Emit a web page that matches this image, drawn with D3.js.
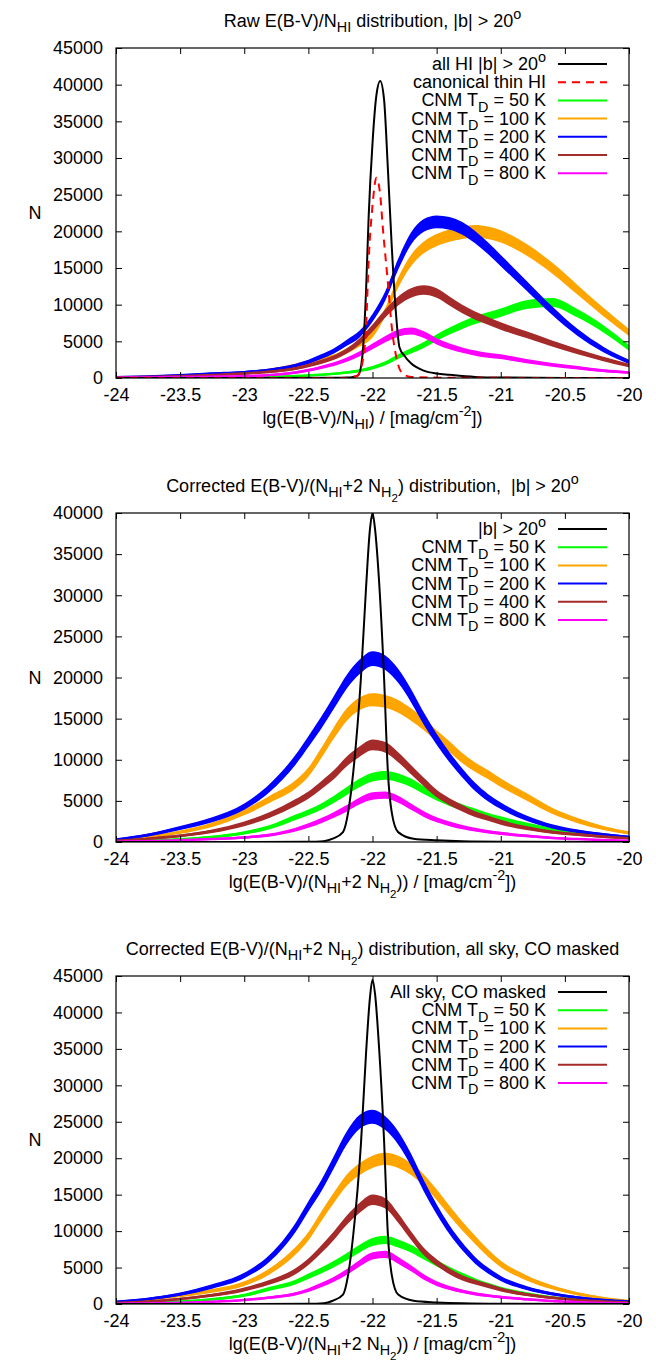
<!DOCTYPE html>
<html>
<head>
<meta charset="utf-8">
<script src="https://cdn.jsdelivr.net/npm/d3@7"></script>
<style>
  body { margin: 0; background: #fff; }
  svg { display: block; font-family: 'Liberation Sans', Arial, sans-serif; }
</style>
</head>
<body>
<svg id="chart" width="656" height="1360"></svg>
<script>
// common x grid (lg E(B-V)/N) for the CNM histograms
const X_GRID = [-24, -23.75, -23.5, -23.25, -23, -22.8, -22.6, -22.5, -22.4, -22.3, -22.2, -22.1, -22, -21.9,
    -21.8, -21.7, -21.6, -21.5, -21.4, -21.3, -21.2, -21.1, -21, -20.8, -20.6, -20.4, -20.2, -20]

const X_TICKS = [-24, -23.5, -23, -22.5, -22, -21.5, -21, -20.5, -20]
const Y_TICKS_45 = [0, 5000, 10000, 15000, 20000, 25000, 30000, 35000, 40000, 45000]
const Y_TICKS_40 = [0, 5000, 10000, 15000, 20000, 25000, 30000, 35000, 40000]

const CNM_LABELS = ['CNM T_{D} = 50 K', 'CNM T_{D} = 100 K', 'CNM T_{D} = 200 K', 'CNM T_{D} = 400 K', 'CNM T_{D} = 800 K']
const CNM_COLORS = ['#00ff00', '#ffa500', '#0000ff', '#a52a2a', '#ff00ff']

// panel 1: raw E(B-V)/N_HI, |b| > 20
const RAW_HI_X = [-24, -22.3, -22.2, -22.15, -22.11, -22.08, -22.05, -22.03, -22, -21.97, -21.94, -21.91, -21.88,
    -21.85, -21.82, -21.79, -21.75, -21.7, -21.6, -21.5, -21.4, -21.2, -21, -20.5, -20]
const RAW_HI_N = [0, 20, 60, 150, 400, 2800, 12000, 22000, 32000, 38500, 40500, 38000, 28500,
    18000, 9500, 4200, 3000, 2000, 1000, 600, 430, 150, 60, 10, 0]
const THIN_HI_X = [-24, -22.2, -22.12, -22.08, -22.05, -22.03, -22, -21.97, -21.94, -21.92, -21.88, -21.85, -21.81,
    -21.76, -21.7, -21.5, -21, -20]
const THIN_HI_N = [0, 0, 300, 2000, 7000, 16000, 23500, 27300, 25000, 20600, 13000, 7000, 2500, 500, 150, 50, 20, 0]
const raw50 = [0, 10, 30, 60, 100, 160, 260, 350, 450, 580, 750, 1000, 1400, 2000, 2900, 3700, 4500, 5500, 6400,
    7200, 7900, 8400, 8900, 10000, 10300, 8800, 6700, 4100]
const raw100 = [80, 180, 300, 500, 750, 1100, 1700, 2100, 2500, 2900, 3700, 4700, 6000, 9000, 13000, 16000, 17800,
    18800, 19400, 19800, 20000, 19800, 19300, 17500, 15000, 12000, 9000, 6200]
const raw200 = [100, 220, 380, 600, 800, 1100, 1700, 2200, 2900, 3700, 4800, 6000, 8200, 11200, 15500, 19000, 20800,
    21300, 21100, 20400, 19200, 17700, 16000, 12600, 9200, 6200, 3900, 2200]
const raw400 = [80, 150, 250, 400, 600, 850, 1300, 1700, 2200, 2800, 3700, 5000, 6800, 8800, 10500, 11600, 12000,
    11600, 10500, 9400, 8500, 7800, 7100, 5900, 4700, 3600, 2600, 1700]
const raw800 = [40, 80, 130, 180, 260, 400, 750, 1050, 1450, 1900, 2500, 3300, 4300, 5300, 6100, 6400, 5900, 5000,
    4300, 3800, 3400, 3100, 2900, 2300, 1800, 1400, 1000, 750]

// panel 2: corrected, |b| > 20
const B20_HI_X = [-24, -22.5, -22.38, -22.31, -22.23, -22.19, -22.15, -22.09, -22.05, -22.02, -22, -21.98, -21.95,
    -21.91, -21.88, -21.85, -21.8, -21.68, -21.5, -21.3, -21, -20]
const B20_HI_N = [0, 20, 100, 400, 1200, 3600, 8500, 20000, 31000, 38000, 40000, 38000, 32000, 20000, 8500, 3600,
    1200, 400, 200, 80, 30, 0]
const b20_50 = [80, 180, 320, 600, 1100, 1800, 3000, 3600, 4300, 5200, 6200, 7200, 7900, 8100, 7800, 7200, 6300,
    5500, 4800, 4200, 3700, 3200, 2800, 2100, 1500, 1100, 750, 500]
const b20_100 = [250, 600, 1200, 2100, 3600, 5200, 7000, 8500, 10800, 13300, 15500, 16800, 17300, 17100, 16500,
    15500, 14300, 12900, 11600, 10200, 9100, 8200, 7200, 5500, 3800, 2600, 1700, 1100]
const b20_200 = [300, 850, 1700, 2700, 4300, 6600, 10000, 12200, 14500, 17000, 19500, 21300, 22300, 21800, 20200,
    17800, 15000, 12500, 10300, 8400, 6700, 5400, 4400, 2900, 1900, 1300, 900, 600]
const b20_400 = [150, 400, 750, 1300, 2200, 3300, 4800, 5700, 6900, 8200, 9800, 11000, 11800, 11500, 10300, 8800,
    7300, 5900, 4900, 4100, 3400, 2900, 2400, 1700, 1200, 900, 650, 450]
const b20_800 = [40, 100, 200, 350, 550, 850, 1500, 2000, 2600, 3300, 4100, 5000, 5600, 5700, 5200, 4300, 3400,
    2700, 2200, 1800, 1500, 1250, 1050, 750, 500, 350, 250, 150]

// panel 3: corrected, all sky, CO masked
const SKY_HI_X = B20_HI_X
const SKY_HI_N = [0, 20, 100, 450, 1300, 4000, 9500, 22000, 34500, 42000, 44500, 42500, 35500, 22500, 9500, 4000,
    1300, 450, 220, 90, 30, 0]
const sky50 = [80, 180, 330, 650, 1200, 2100, 3000, 3800, 4600, 5500, 6500, 7600, 8500, 8800, 8300, 7600, 6600,
    5600, 4700, 3900, 3200, 2600, 2100, 1400, 900, 600, 400, 250]
const sky100 = [250, 600, 1150, 1800, 2800, 4500, 7300, 9300, 12000, 14600, 17000, 18500, 19500, 19900, 19500,
    18500, 17000, 15000, 12800, 10700, 8800, 7000, 5500, 3600, 2300, 1400, 800, 400]
const sky200 = [300, 700, 1350, 2400, 3900, 6300, 10500, 13400, 16200, 19500, 22800, 25000, 25700, 24800, 22800,
    19800, 16200, 13000, 10200, 7900, 6000, 4600, 3500, 2200, 1400, 900, 550, 350]
const sky400 = [150, 350, 700, 1200, 2000, 3000, 4500, 5800, 7500, 9400, 11500, 13200, 14300, 13800, 11800, 9400,
    7200, 5700, 4500, 3600, 3000, 2500, 2000, 1300, 850, 550, 350, 200]
const sky800 = [40, 80, 160, 300, 550, 900, 1400, 1900, 2600, 3400, 4400, 5600, 6600, 6800, 6000, 4900, 3700, 2800,
    2200, 1750, 1400, 1150, 950, 650, 400, 250, 150, 100]

const TITLES = [
    'Raw E(B-V)/N_{HI} distribution, |b| > 20^{o}',
    'Corrected E(B-V)/(N_{HI}+2 N_{H_{2}}) distribution,  |b| > 20^{o}',
    'Corrected E(B-V)/(N_{HI}+2 N_{H_{2}}) distribution, all sky, CO masked',
]
const XLABELS = [
    'lg(E(B-V)/N_{HI}) / [mag/cm^{-2}])',
    'lg(E(B-V)/(N_{HI}+2 N_{H_{2}})) / [mag/cm^{-2}])',
    'lg(E(B-V)/(N_{HI}+2 N_{H_{2}})) / [mag/cm^{-2}])',
]

const panels = [
    { top: 48, bottom: 378, yTicks: Y_TICKS_45, title: TITLES[0], xlabel: XLABELS[0],
      black: { x: RAW_HI_X, n: RAW_HI_N, label: 'all HI |b| > 20^{o}' },
      red: { x: THIN_HI_X, n: THIN_HI_N, label: 'canonical thin HI' },
      cnm: [raw50, raw100, raw200, raw400, raw800] },
    { top: 513, bottom: 842, yTicks: Y_TICKS_40, title: TITLES[1], xlabel: XLABELS[1],
      black: { x: B20_HI_X, n: B20_HI_N, label: '|b| > 20^{o}' },
      cnm: [b20_50, b20_100, b20_200, b20_400, b20_800] },
    { top: 976, bottom: 1304, yTicks: Y_TICKS_45, title: TITLES[2], xlabel: XLABELS[2],
      black: { x: SKY_HI_X, n: SKY_HI_N, label: 'All sky, CO masked' },
      cnm: [sky50, sky100, sky200, sky400, sky800] },
]

const FS = 18
const LEFT = 116, RIGHT = 629
const NOISE = 6 // half width of the noisy band, in sqrt(N) units

// gnuplot-like enhanced text: _{sub} and ^{sup}
function richText(sel, str, size) {
    let curOff = 0
    function flush(t, scale, off) {
        if (!t) return
        sel.append('tspan').attr('font-size', size * scale).attr('dy', off - curOff).text(t)
        curOff = off
    }
    function run(s, scale, off) {
        let buf = '', i = 0
        while (i < s.length) {
            const c = s[i]
            if (c === '_' || c === '^') {
                flush(buf, scale, off)
                buf = ''
                let inner, j = i + 1
                if (s[j] === '{') {
                    let depth = 1, k = j + 1
                    while (depth) {
                        if (s[k] === '{') depth++
                        else if (s[k] === '}') depth--
                        k++
                    }
                    inner = s.slice(j + 1, k - 1)
                    i = k
                } else {
                    inner = s[j]
                    i = j + 1
                }
                const shift = c === '_' ? 0.3 * size * scale : -0.42 * size * scale
                run(inner, scale * 0.8, off + shift)
            } else {
                buf += c
                i++
            }
        }
        flush(buf, scale, off)
    }
    run(str, 1, 0)
    return sel
}

const svg = d3.select('#chart')
const x = d3.scaleLinear().domain([-24, -20]).range([LEFT, RIGHT])

panels.forEach((p, pi) => {
    const y = d3.scaleLinear().domain([0, d3.max(p.yTicks)]).range([p.bottom, p.top])
    const g = svg.append('g')

    svg.append('clipPath').attr('id', 'clip' + pi)
        .append('rect')
        .attr('x', LEFT).attr('y', p.top)
        .attr('width', RIGHT - LEFT).attr('height', p.bottom - p.top)
    const plot = g.append('g').attr('clip-path', `url(#clip${pi})`)

    const line = d3.line().curve(d3.curveMonotoneX).x(d => x(d.x)).y(d => y(d.n))
    const band = d3.area().curve(d3.curveMonotoneX)
        .x(d => x(d.x))
        .y0(d => y(Math.max(0, d.n - NOISE * Math.sqrt(d.n))))
        .y1(d => y(d.n + NOISE * Math.sqrt(d.n)))

    // CNM histograms (noisy bands)
    p.cnm.forEach((vals, i) => {
        const pts = X_GRID.map((xv, j) => ({ x: xv, n: vals[j] }))
        plot.append('path').datum(pts).attr('d', band).attr('fill', CNM_COLORS[i])
        plot.append('path').datum(pts).attr('d', line)
            .attr('fill', 'none').attr('stroke', CNM_COLORS[i]).attr('stroke-width', 2.5)
    })

    // total HI peak
    const bpts = p.black.x.map((xv, j) => ({ x: xv, n: p.black.n[j] }))
    plot.append('path').datum(bpts).attr('d', line)
        .attr('fill', 'none').attr('stroke', '#000').attr('stroke-width', 2)

    if (p.red) {
        const rpts = p.red.x.map((xv, j) => ({ x: xv, n: p.red.n[j] }))
        plot.append('path').datum(rpts).attr('d', line)
            .attr('fill', 'none').attr('stroke', '#ff0000').attr('stroke-width', 2)
            .attr('stroke-dasharray', '8,6')
    }

    // axes with inward ticks, mirrored
    const styleAxis = a => {
        a.select('.domain').remove()
        a.selectAll('line').attr('stroke', '#000').attr('stroke-width', 1)
        a.selectAll('text').attr('font-size', FS).attr('fill', '#000')
            .attr('font-family', "'Liberation Sans', Arial, sans-serif")
    }
    g.append('g').attr('transform', `translate(0,${p.bottom})`)
        .call(d3.axisBottom(x).tickValues(X_TICKS).tickSize(-6).tickPadding(10).tickFormat(d => String(d)))
        .call(styleAxis)
    g.append('g').attr('transform', `translate(0,${p.top})`)
        .call(d3.axisTop(x).tickValues(X_TICKS).tickSize(-6).tickFormat(''))
        .call(styleAxis)
    g.append('g').attr('transform', `translate(${LEFT},0)`)
        .call(d3.axisLeft(y).tickValues(p.yTicks).tickSize(-6).tickPadding(13).tickFormat(d => String(d)))
        .call(styleAxis)
    g.append('g').attr('transform', `translate(${RIGHT},0)`)
        .call(d3.axisRight(y).tickValues(p.yTicks).tickSize(-6).tickFormat(''))
        .call(styleAxis)

    g.append('rect')
        .attr('x', LEFT).attr('y', p.top)
        .attr('width', RIGHT - LEFT).attr('height', p.bottom - p.top)
        .attr('fill', 'none').attr('stroke', '#000').attr('stroke-width', 1.2)

    // title, axis labels
    richText(g.append('text').attr('x', (LEFT + RIGHT) / 2).attr('y', p.top - 21)
        .attr('text-anchor', 'middle').attr('font-size', FS).style('white-space', 'pre'), p.title, FS)
    richText(g.append('text').attr('x', (LEFT + RIGHT) / 2).attr('y', p.bottom + 46)
        .attr('text-anchor', 'middle').attr('font-size', FS).style('white-space', 'pre'), p.xlabel, FS)
    g.append('text').attr('x', 35).attr('y', (p.top + p.bottom) / 2 + 6)
        .attr('text-anchor', 'middle').attr('font-size', FS).text('N')

    // key
    const entries = [{ label: p.black.label, color: '#000' }]
    if (p.red) entries.push({ label: p.red.label, color: '#ff0000', dash: '8,6' })
    CNM_LABELS.forEach((l, i) => entries.push({ label: l, color: CNM_COLORS[i] }))
    entries.forEach((e, i) => {
        const ly = p.top + 16 + i * 18.2
        richText(g.append('text').attr('x', 546).attr('y', ly + 6)
            .attr('text-anchor', 'end').attr('font-size', FS).style('white-space', 'pre'), e.label, FS)
        g.append('line').attr('x1', 558).attr('x2', 607).attr('y1', ly).attr('y2', ly)
            .attr('stroke', e.color).attr('stroke-width', 2)
            .attr('stroke-dasharray', e.dash || null)
    })
})
</script>
</body>
</html>
